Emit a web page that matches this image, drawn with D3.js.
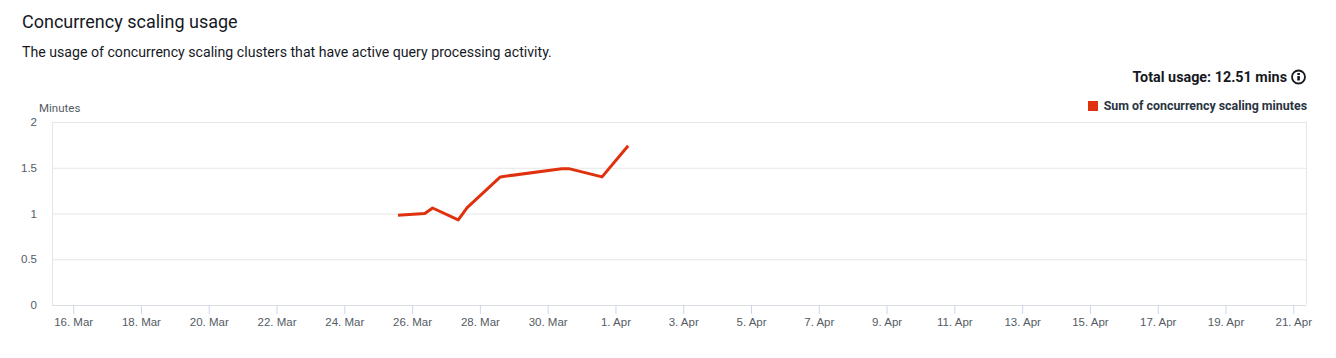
<!DOCTYPE html>
<html>
<head>
<meta charset="utf-8">
<title>Concurrency scaling usage</title>
<script src="https://cdn.jsdelivr.net/npm/d3@7"></script>
<style>
	html, body { margin: 0; padding: 0; background: #fff; }
	svg { display: block; font-family: Roboto, sans-serif; }
	.grid line { stroke: #e6e6e6; }
	.tick-label { fill: #545b64; font-size: 11.5px; }
</style>
</head>
<body>
<script>
'use strict';

var usageDates = ['2023-03-25T14:00', '2023-03-26T09:00', '2023-03-26T14:30', '2023-03-27T08:40', '2023-03-27T15:00',
	'2023-03-28T14:30', '2023-03-30T10:00', '2023-03-30T15:00', '2023-03-31T14:30', '2023-04-01T09:00'];
var usageMinutes = [0.98, 1.0, 1.06, 0.93, 1.065, 1.4, 1.49, 1.49, 1.4, 1.74];
var xTickDates = ['2023-03-16', '2023-03-18', '2023-03-20', '2023-03-22', '2023-03-24', '2023-03-26', '2023-03-28', '2023-03-30',
	'2023-04-01', '2023-04-03', '2023-04-05', '2023-04-07', '2023-04-09', '2023-04-11', '2023-04-13', '2023-04-15', '2023-04-17',
	'2023-04-19', '2023-04-21'];
var xDomain = ['2023-03-15T09:00', '2023-04-21T09:00'];
var yTicks = [0, 0.5, 1, 1.5, 2];

var width = 1336, height = 358;
var plotLeft = 52, plotRight = 1306, plotTop = 122, plotBottom = 305;

var svg = d3.select('body').append('svg')
	.attr('width', width)
	.attr('height', height);

var parse = function(s) { return new Date(s.length > 10 ? s : s + 'T00:00'); };

// define x/y-scale
var xScale = d3.scaleTime()
	.domain(xDomain.map(parse))
	.range([plotLeft, plotRight]);
var yScale = d3.scaleLinear()
	.domain([0, 2])
	.range([plotBottom, plotTop]);

// header texts
svg.append('text').attr('x', 22).attr('y', 28)
	.attr('font-size', 18).attr('fill', '#16191f')
	.text('Concurrency scaling usage');
svg.append('text').attr('x', 22).attr('y', 57)
	.attr('font-size', 14.15).attr('fill', '#16191f')
	.text('The usage of concurrency scaling clusters that have active query processing activity.');
svg.append('text').attr('x', 1287).attr('y', 82).attr('text-anchor', 'end')
	.attr('font-size', 14.35).attr('font-weight', 700).attr('fill', '#16191f')
	.text('Total usage: 12.51 mins');

// info icon
var info = svg.append('g').attr('transform', 'translate(1298.5,77)');
info.append('circle').attr('r', 6.5).attr('fill', 'none').attr('stroke', '#16191f').attr('stroke-width', 1.8);
info.append('rect').attr('x', -1.2).attr('y', -1).attr('width', 2.6).attr('height', 4.5).attr('fill', '#16191f');
info.append('rect').attr('x', -1.2).attr('y', -4).attr('width', 2.6).attr('height', 2).attr('fill', '#16191f');

// legend
svg.append('rect').attr('x', 1088).attr('y', 101).attr('width', 10).attr('height', 10).attr('fill', '#e0310f');
svg.append('text').attr('x', 1307).attr('y', 110).attr('text-anchor', 'end')
	.attr('font-size', 12.4).attr('font-weight', 700).attr('fill', '#2a3442')
	.text('Sum of concurrency scaling minutes');

svg.append('text').attr('x', 39).attr('y', 112)
	.attr('class', 'tick-label')
	.text('Minutes');

// draw y-grid
var yGrid = d3.axisLeft(yScale)
	.tickValues(yTicks)
	.tickSize(-(plotRight - plotLeft))
	.tickPadding(15)
	.tickFormat(d3.format('~g'));
var yAxis = svg.append('g')
	.attr('class', 'grid')
	.attr('transform', 'translate(' + plotLeft + ',0)')
	.call(yGrid);
yAxis.select('.domain').remove();
yAxis.selectAll('text').attr('class', 'tick-label').style('font-family', 'inherit');

// plot borders
svg.append('line').attr('x1', plotLeft + 0.5).attr('x2', plotLeft + 0.5).attr('y1', plotTop).attr('y2', plotBottom).attr('stroke', '#e6e6e6');
svg.append('line').attr('x1', plotRight + 0.5).attr('x2', plotRight + 0.5).attr('y1', plotTop).attr('y2', plotBottom).attr('stroke', '#e6e6e6');

// draw x-axis
var xAxisGen = d3.axisBottom(xScale)
	.tickValues(xTickDates.map(parse))
	.tickSize(9)
	.tickPadding(4)
	.tickFormat(d3.timeFormat('%-d. %b'));
var xAxis = svg.append('g')
	.attr('transform', 'translate(0,' + plotBottom + ')')
	.call(xAxisGen);
xAxis.select('.domain').attr('stroke', '#dcdfe6').attr('d', 'M' + plotLeft + ',0.5H' + plotRight);
xAxis.selectAll('line').attr('stroke', '#ccd6eb');
xAxis.selectAll('text').attr('class', 'tick-label').style('font-family', 'inherit');

// draw a line
var line = d3.line()
	.x(function(d) { return xScale(parse(d)); })
	.y(function(d, i) { return yScale(usageMinutes[i]); });
svg.append('path')
	.datum(usageDates)
	.attr('fill', 'none')
	.attr('stroke', '#e0310f')
	.attr('stroke-width', 3)
	.attr('stroke-linejoin', 'round')
	.attr('d', line);
</script>
</body>
</html>
